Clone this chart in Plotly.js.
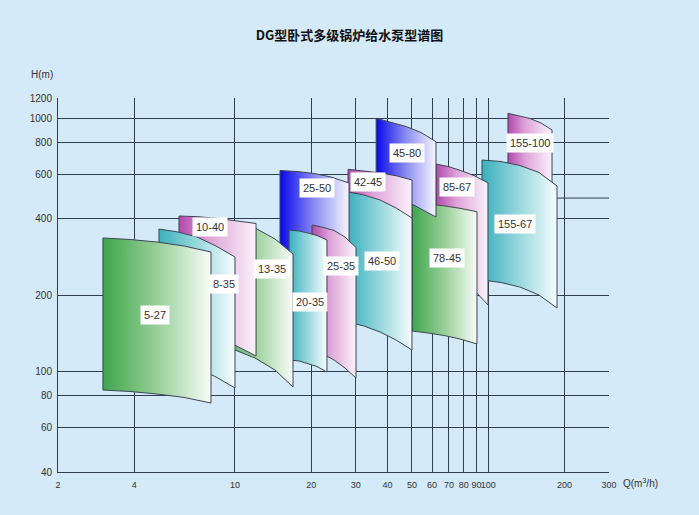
<!DOCTYPE html>
<html>
<head>
<meta charset="utf-8">
<script src="https://cdn.plot.ly/plotly-3.0.1.min.js"></script>
<style>
  html, body { margin: 0; padding: 0; background: rgb(213,234,248); }
  #chart { width: 699px; height: 515px; }
</style>
</head>
<body>
<div id="chart"></div>
<script>
// ---------- data (Q in m3/h, H in m) ----------
const xTicks = [2, 4, 10, 20, 30, 40, 50, 60, 70, 80, 90, 100, 200, 300];
const yTicks = [40, 60, 80, 100, 200, 400, 600, 800, 1000, 1200];

// pump model names, back to front drawing order
const models = ["155-100", "155-67", "85-67", "78-45", "45-80", "42-45", "46-50",
                "25-50", "25-35", "20-35", "13-35", "10-40", "8-35", "5-27"];
const families = ["pink", "teal", "pink", "green", "blue", "pink", "teal",
                  "blue", "pink", "teal", "green", "pink", "teal", "green"];

// flow points along each band, upper (top) and lower (bottom) head curves
const q_155_100 = [119.7, 132.3, 146.3, 161.7, 178.7];
const top_155_100 = [1044, 1023, 995.8, 955.8, 897.1];
const bot_155_100 = [361.2, 339.0, 329.9, 306.7, 280.0];

const q_155_67 = [94.5, 112.4, 133.5, 158.7, 187.0];
const top_155_67 = [682.7, 673.5, 649.4, 609.5, 539.2];
const bot_155_67 = [229.3, 224.1, 215.1, 200.0, 177.7];

const q_85_67 = [62.2, 70.0, 78.8, 88.7, 99.8];
const top_85_67 = [658.4, 642.4, 617.9, 590.4, 554.1];
const bot_85_67 = [246.6, 237.8, 225.2, 207.4, 182.6];

const q_78_45 = [50.0, 57.9, 66.9, 77.4, 90.3];
const top_78_45 = [459.5, 457.4, 450.0, 440.0, 426.6];
const bot_78_45 = [144.2, 141.6, 138.4, 134.1, 128.1];

const q_45_80 = [36.1, 41.3, 47.4, 54.3, 62.2];
const top_45_80 = [997.6, 964.7, 926.0, 877.0, 806.6];
const bot_45_80 = [544.1, 519.8, 470.3, 437.2, 406.6];

const q_42_45 = [27.96, 32.3, 37.4, 43.3, 50.0];
const top_42_45 = [627.5, 619.5, 607.8, 591.5, 569.4];
const bot_42_45 = [209.3, 200.0, 191.1, 177.7, 162.3];

const q_46_50 = [27.96, 32.3, 37.4, 43.3, 50.0];
const top_46_50 = [510.5, 496.8, 474.6, 441.2, 402.9];
const bot_46_50 = [156.5, 150.9, 142.9, 132.8, 121.3];

const q_25_50 = [15.06, 17.58, 20.52, 23.95, 28.21];
const top_25_50 = [620.6, 615.0, 604.0, 585.0, 554.1];
const bot_25_50 = [209.3, 203.7, 194.6, 186.0, 174.5];

const q_25_35 = [20.15, 22.26, 24.61, 27.20, 30.06];
const top_25_35 = [378.1, 370.2, 359.6, 339.0, 308.1];
const bot_25_35 = [121.3, 117.0, 110.8, 103.0, 94.0];

const q_20_35 = [16.35, 17.90, 19.43, 21.08, 23.08];
const top_20_35 = [361.2, 358.0, 351.5, 343.7, 329.9];
const bot_20_35 = [110.8, 109.8, 107.3, 104.4, 99.3];

const q_13_35 = [8.34, 10.0, 12.0, 14.39, 16.95];
const top_13_35 = [395.7, 388.5, 367.9, 332.9, 290.4];
const bot_13_35 = [127.0, 121.3, 112.8, 101.1, 86.6];

const q_10_40 = [6.01, 7.14, 8.49, 10.09, 12.11];
const top_10_40 = [410.3, 407.7, 401.8, 393.1, 383.3];
const bot_10_40 = [156.5, 148.2, 137.8, 125.8, 114.9];

const q_8_35 = [5.01, 5.96, 7.08, 8.42, 10.0];
const top_8_35 = [364.5, 354.7, 339.0, 312.3, 282.6];
const bot_8_35 = [112.8, 108.8, 103.0, 94.9, 85.9];

const q_5_27 = [3.01, 3.85, 4.92, 6.29, 8.04];
const top_5_27 = [336.0, 331.4, 323.9, 312.3, 295.7];
const bot_5_27 = [84.3, 83.2, 81.3, 78.8, 74.9];

// label anchor positions (Q, H), same order as models
const labelQ = [146.3, 127.6, 75.1, 68.6, 47.7, 33.6, 38.2, 21.0, 26.2, 19.8, 14.0, 7.97, 9.05, 4.83];
const labelH = [794.9, 380.5, 532.8, 279.3, 729.7, 560.7, 273.3, 527.9, 260.4, 188.5, 253.4, 371.2, 221.1, 166.8];

// partial extra grid line seen at the right (H, from Q to Q)
const extraGridH = 483;
const extraGridQ = [100, 300];

// ---------- styling ----------
const gradients = {
  green: [[0, 'rgb(62,166,76)'], [0.5, 'rgb(152,207,152)'], [1, 'rgb(248,252,248)']],
  teal:  [[0, 'rgb(58,176,188)'], [0.5, 'rgb(152,216,222)'], [1, 'rgb(246,252,252)']],
  blue:  [[0, 'rgb(8,8,238)'], [0.5, 'rgb(140,140,242)'], [1, 'rgb(246,246,255)']],
  pink:  [[0, 'rgb(176,72,172)'], [0.4, 'rgb(222,164,216)'], [1, 'rgb(251,242,251)']]
};
const gridColor = '#2e3e4e';
const outline = '#3b4652';
const xTickFont = { family: 'Liberation Sans, Arial, sans-serif', size: 9, color: '#333' };
const yTickFont = { family: 'Liberation Sans, Arial, sans-serif', size: 10, color: '#333' };

const bands = {
  "155-100": [q_155_100, top_155_100, bot_155_100],
  "155-67": [q_155_67, top_155_67, bot_155_67],
  "85-67": [q_85_67, top_85_67, bot_85_67],
  "78-45": [q_78_45, top_78_45, bot_78_45],
  "45-80": [q_45_80, top_45_80, bot_45_80],
  "42-45": [q_42_45, top_42_45, bot_42_45],
  "46-50": [q_46_50, top_46_50, bot_46_50],
  "25-50": [q_25_50, top_25_50, bot_25_50],
  "25-35": [q_25_35, top_25_35, bot_25_35],
  "20-35": [q_20_35, top_20_35, bot_20_35],
  "13-35": [q_13_35, top_13_35, bot_13_35],
  "10-40": [q_10_40, top_10_40, bot_10_40],
  "8-35": [q_8_35, top_8_35, bot_8_35],
  "5-27": [q_5_27, top_5_27, bot_5_27]
};

const traces = models.map((m, i) => {
  const [q, t, b] = bands[m];
  const xs = q.concat(q.slice().reverse(), [q[0]]);
  const ys = t.concat(b.slice().reverse(), [t[0]]);
  return {
    type: 'scatter', mode: 'lines', x: xs, y: ys, name: m,
    fill: 'toself',
    fillgradient: { type: 'horizontal', colorscale: gradients[families[i]] },
    line: { color: outline, width: 1 },
    hoverinfo: 'name', showlegend: false
  };
});

const labelFont = { family: 'Liberation Sans, Arial, sans-serif', size: 11, color: '#333' };
const annotations = models.map((m, i) => ({
  x: Math.log10(labelQ[i]), y: Math.log10(labelH[i]), xref: 'x', yref: 'y',
  text: m, showarrow: false, bgcolor: '#ffffff', borderpad: 3, font: labelFont
}));
annotations.push({
  xref: 'paper', yref: 'paper', x: -0.029, y: 1.0615, xanchor: 'center', yanchor: 'middle',
  text: 'H(m)', showarrow: false,
  font: { family: 'Liberation Sans, Arial, sans-serif', size: 10, color: '#333' }
});
annotations.push({
  xref: 'paper', yref: 'paper', x: 1.022, y: -0.029, xanchor: 'left', yanchor: 'middle',
  text: 'Q(m<sup>3</sup>/h)',
  showarrow: false, font: { family: 'Liberation Sans, Arial, sans-serif', size: 10, color: '#333' }
});

const layout = {
  width: 699, height: 515,
  margin: { l: 58, r: 90, t: 98, b: 43 },
  paper_bgcolor: 'rgb(213,234,248)', plot_bgcolor: 'rgb(213,234,248)',
  title: {
    text: '<b>DG型卧式多级锅炉给水泵型谱图</b>',
    font: { family: 'Noto Sans CJK SC, sans-serif', size: 13, color: '#111' },
    xref: 'container', yref: 'container', x: 0.5, y: 0.932, xanchor: 'center', yanchor: 'middle'
  },
  xaxis: {
    type: 'log', range: [Math.log10(2), Math.log10(300)],
    tickmode: 'array', tickvals: xTicks, ticktext: xTicks.map(String), tickangle: 0,
    ticklabelstandoff: 4,
    showgrid: true, gridcolor: gridColor, gridwidth: 1,
    showline: true, linecolor: gridColor, linewidth: 1, zeroline: false,
    ticks: '', tickfont: xTickFont
  },
  yaxis: {
    type: 'log', range: [Math.log10(40), Math.log10(1200)],
    tickmode: 'array', tickvals: yTicks, ticktext: yTicks.map(String),
    ticklabelstandoff: 3,
    showgrid: true, gridcolor: gridColor, gridwidth: 1,
    showline: true, linecolor: gridColor, linewidth: 1, zeroline: false,
    ticks: '', tickfont: yTickFont
  },
  shapes: [{
    type: 'line', xref: 'x', yref: 'y', layer: 'below',
    x0: extraGridQ[0], x1: extraGridQ[1], y0: extraGridH, y1: extraGridH,
    line: { color: gridColor, width: 1 }
  }],
  annotations: annotations,
  showlegend: false
};

Plotly.newPlot('chart', traces, layout, { displayModeBar: false, staticPlot: true });
</script>
</body>
</html>
